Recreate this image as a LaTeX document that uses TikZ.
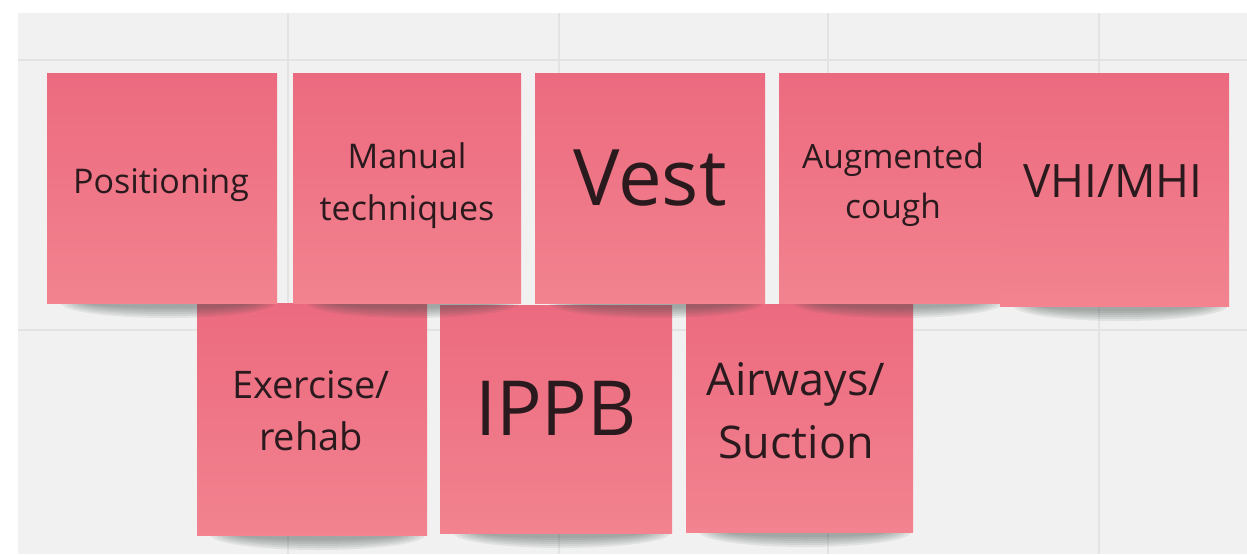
\documentclass[tikz,border=0pt]{standalone}
\usepackage{fontspec}
\setmainfont{Open Sans}
\definecolor{bg}{HTML}{F1F1F1}
\definecolor{gridc}{HTML}{E3E3E3}
\definecolor{noteTop}{HTML}{EC6A7F}
\definecolor{noteBot}{HTML}{F2838F}
\definecolor{ink}{HTML}{2A1A1E}
\definecolor{shadowc}{HTML}{3E4B49}
\newcommand\nshadow[3]{%
  \foreach \k in {0,...,5}{%
    \fill[shadowc, opacity=0.09] ({(#1+#2)/2+6}, #3) ellipse [x radius={((#2-#1)/2-8-5*\k)*1pt}, y radius={(15-2*\k)*1pt}];}}
\begin{document}
\begin{tikzpicture}[x=1pt,y=-1pt,
  note/.style={rectangle, inner sep=0pt, draw=none, top color=noteTop, bottom color=noteBot},
  txt/.style={text=ink, align=center, anchor=base, inner sep=0pt},
  gridline/.style={draw=gridc, line width=1.3pt}]
\useasboundingbox (0,0) rectangle (1247,554);
\fill[white] (0,0) rectangle (1247,554);
\fill[bg] (18,13) rectangle (1247,554);
\foreach \gx in {288,559,828,1099} \draw[gridline] (\gx,13) -- (\gx,554);
\foreach \gy in {60,330} \draw[gridline] (18,\gy) -- (1247,\gy);

% bottom row
\nshadow{197}{427}{535}
\nshadow{440}{672}{533}
\nshadow{686}{913}{532}
\node[note, minimum width=230pt, minimum height=232pt] (ex) at (312,419) {};
\node[note, minimum width=232pt, minimum height=228pt] (ippb) at (556,419) {};
\node[note, minimum width=227pt, minimum height=228pt] (air) at (799.5,418) {};
\node[txt, font=\fontsize{38}{52}\selectfont] (exT) at (311,450) {Exercise/\\rehab};
\node[txt, font=\fontsize{76}{80}\selectfont] (ippbT) at (556,435) {IPPB};
\node[txt, font=\fontsize{45}{63}\selectfont] (airT) at (796,458) {Airways/\\Suction};

% top row
\nshadow{47}{277}{303}
\nshadow{293}{521}{303}
\nshadow{535}{765}{303}
\nshadow{779}{1005}{303}
\nshadow{1000}{1229}{306}
\node[note, minimum width=230pt, minimum height=230pt] (pos) at (162,188) {};
\node[note, minimum width=228pt, minimum height=230pt] (man) at (407,188) {};
\node[note, minimum width=230pt, minimum height=230pt] (vest) at (650,188) {};
\node[note, minimum width=226pt, minimum height=230pt] (aug) at (892,188) {};
\node[note, minimum width=229pt, minimum height=233pt] (vhi) at (1114.5,189.5) {};
\node[txt, font=\fontsize{34}{50}\selectfont] (posT) at (161,193) {Positioning};
\node[txt, font=\fontsize{34}{52}\selectfont] (manT) at (407,220) {Manual\\techniques};
\node[txt, font=\fontsize{78}{80}\selectfont] (vestT) at (650,205) {Vest};
\node[txt, font=\fontsize{33.5}{50}\selectfont] (augT) at (893,218) {Augmented\\cough};
\node[txt, font=\fontsize{46}{50}\selectfont] (vhiT) at (1113,197) {VHI/MHI};
\end{tikzpicture}
\end{document}
